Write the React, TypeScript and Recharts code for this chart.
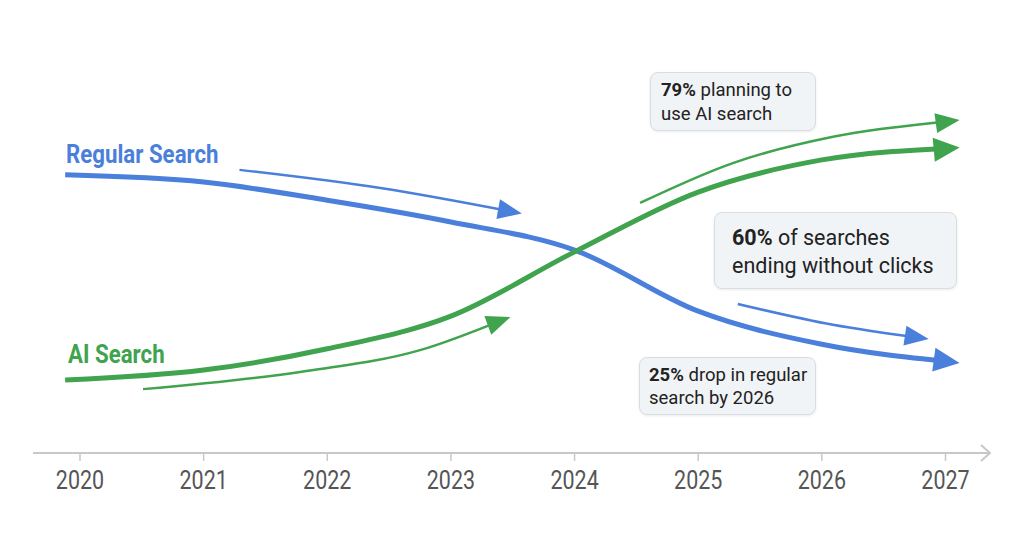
import React from 'react';
import { LineChart, Line, XAxis, YAxis, ReferenceDot } from 'recharts';

// Year ticks on the timeline
const years = [2020, 2021, 2022, 2023, 2024, 2025, 2026, 2027];

// Main series (relative search index, 0-100)
const regularSearch = [
  { x: 2019.88, y: 61.4 },
  { x: 2021, y: 59.8 },
  { x: 2022, y: 55.8 },
  { x: 2023, y: 51.0 },
  { x: 2024, y: 44.8 },
  { x: 2025, y: 31.3 },
  { x: 2026, y: 24.0 },
  { x: 2027.05, y: 20.1 },
];

const aiSearch = [
  { x: 2019.88, y: 16.1 },
  { x: 2021, y: 18.3 },
  { x: 2022, y: 23.0 },
  { x: 2023, y: 30.2 },
  { x: 2024, y: 44.4 },
  { x: 2025, y: 57.6 },
  { x: 2026, y: 64.7 },
  { x: 2027.05, y: 67.3 },
];

// Thin trend arrows
const regularTrendUpper = [
  { x: 2021.29, y: 62.5 },
  { x: 2022.43, y: 58.5 },
  { x: 2023.51, y: 53.2 },
];
const regularTrendLower = [
  { x: 2025.32, y: 32.9 },
  { x: 2026.09, y: 28.3 },
  { x: 2026.8, y: 25.4 },
];
const aiTrendLower = [
  { x: 2020.51, y: 14.1 },
  { x: 2021.78, y: 17.9 },
  { x: 2022.75, y: 22.7 },
  { x: 2023.42, y: 29.4 },
];
const aiTrendUpper = [
  { x: 2024.53, y: 55.2 },
  { x: 2025.28, y: 64.0 },
  { x: 2026.09, y: 69.8 },
  { x: 2027.05, y: 73.3 },
];

const BLUE = '#4A7FDB';
const GREEN = '#40A34E';
const AXIS = '#C8C8C8';

const makeArrowDot = (color: string, len: number, half: number) => (props: any) => {
  const { cx, cy, index, points } = props;
  if (!points || index !== points.length - 1 || index < 1) return <g key={`d-${index}`} />;
  const prev = points[index - 1];
  const dx = cx - prev.x;
  const dy = cy - prev.y;
  const d = Math.sqrt(dx * dx + dy * dy) || 1;
  const ux = dx / d;
  const uy = dy / d;
  const ahead = 8;
  const tx = cx + ux * ahead;
  const ty = cy + uy * ahead;
  const bx = tx - ux * len;
  const by = ty - uy * len;
  const px = -uy;
  const py = ux;
  const path = `M${tx},${ty} L${bx + px * half},${by + py * half} L${bx - px * half},${by - py * half} Z`;
  return <path key={`d-${index}`} d={path} fill={color} stroke="none" />;
};

const YearTick = (props: any) => {
  const { x, y, payload } = props;
  return (
    <text
      transform={`translate(${x},${y}) scale(0.86,1)`}
      x={0}
      y={0}
      dy="0.71em"
      textAnchor="middle"
      fill="#555555"
      fontSize={25}
      fontFamily="Roboto, sans-serif"
    >
      {payload.value}
    </text>
  );
};

const Chevron = (props: any) => {
  const { cx, cy } = props;
  return (
    <path
      d={`M${cx - 9},${cy - 8} L${cx},${cy} L${cx - 9},${cy + 8}`}
      fill="none"
      stroke={AXIS}
      strokeWidth={2}
    />
  );
};

const boxBase: React.CSSProperties = {
  position: 'absolute',
  boxSizing: 'border-box',
  background: '#F1F4F7',
  border: '1px solid #D8DDE2',
  borderRadius: 8,
  boxShadow: '0 1px 3px rgba(0,0,0,0.08)',
  color: '#222222',
  fontFamily: 'Roboto, sans-serif',
  whiteSpace: 'nowrap',
};

export default function App() {
  return (
    <div
      style={{
        position: 'absolute',
        left: 0,
        top: 0,
        width: 1024,
        height: 559,
        background: '#FFFFFF',
        overflow: 'hidden',
      }}
    >
      <LineChart width={1024} height={559} margin={{ top: 0, right: 34, left: 33, bottom: 76 }}>
        <XAxis
          type="number"
          dataKey="x"
          domain={[2019.62, 2027.36]}
          allowDataOverflow
          ticks={years}
          interval={0}
          height={30}
          axisLine={{ stroke: AXIS, strokeWidth: 2 }}
          tickLine={{ stroke: AXIS, strokeWidth: 1.5 }}
          tickSize={8}
          tickMargin={10}
          tick={<YearTick />}
        />
        <YAxis type="number" dataKey="y" domain={[0, 100]} hide />
        <ReferenceDot x={2027.36} y={0} ifOverflow="visible" shape={<Chevron />} />
        <Line
          data={regularTrendUpper}
          dataKey="y"
          type="monotone"
          stroke={BLUE}
          strokeWidth={2.5}
          dot={makeArrowDot(BLUE, 24, 10)}
          activeDot={false}
          isAnimationActive={false}
        />
        <Line
          data={regularTrendLower}
          dataKey="y"
          type="monotone"
          stroke={BLUE}
          strokeWidth={2.5}
          dot={makeArrowDot(BLUE, 24, 10)}
          activeDot={false}
          isAnimationActive={false}
        />
        <Line
          data={aiTrendLower}
          dataKey="y"
          type="monotone"
          stroke={GREEN}
          strokeWidth={2.5}
          dot={makeArrowDot(GREEN, 24, 10)}
          activeDot={false}
          isAnimationActive={false}
        />
        <Line
          data={aiTrendUpper}
          dataKey="y"
          type="monotone"
          stroke={GREEN}
          strokeWidth={2.5}
          dot={makeArrowDot(GREEN, 24, 10)}
          activeDot={false}
          isAnimationActive={false}
        />
        <Line
          data={regularSearch}
          dataKey="y"
          type="monotone"
          stroke={BLUE}
          strokeWidth={5}
          dot={makeArrowDot(BLUE, 26, 12)}
          activeDot={false}
          isAnimationActive={false}
        />
        <Line
          data={aiSearch}
          dataKey="y"
          type="monotone"
          stroke={GREEN}
          strokeWidth={5}
          dot={makeArrowDot(GREEN, 26, 12)}
          activeDot={false}
          isAnimationActive={false}
        />
      </LineChart>

      {/* Series labels */}
      <div
        style={{
          position: 'absolute',
          left: 66,
          top: 141.5,
          fontFamily: 'Roboto, sans-serif',
          fontWeight: 700,
          fontSize: 25,
          lineHeight: '25px',
          height: 25,
          color: BLUE,
          transform: 'scaleX(0.89)',
          transformOrigin: 'left top',
          whiteSpace: 'nowrap',
        }}
      >
        Regular Search
      </div>
      <div
        style={{
          position: 'absolute',
          left: 67.5,
          top: 342,
          fontFamily: 'Roboto, sans-serif',
          fontWeight: 700,
          fontSize: 25,
          lineHeight: '25px',
          height: 25,
          color: GREEN,
          transform: 'scaleX(0.89)',
          transformOrigin: 'left top',
          whiteSpace: 'nowrap',
        }}
      >
        AI Search
      </div>

      {/* Callouts */}
      <div
        style={{
          ...boxBase,
          left: 650,
          top: 72,
          width: 166,
          height: 59,
          paddingLeft: 10,
          paddingTop: 5.4,
          fontSize: 18.5,
          lineHeight: '24px',
        }}
      >
        <b>79%</b> planning to
        <br />
        use AI search
      </div>
      <div
        style={{
          ...boxBase,
          left: 714,
          top: 212,
          width: 243,
          height: 77,
          paddingLeft: 17,
          paddingTop: 10.6,
          fontSize: 21.5,
          lineHeight: '28px',
        }}
      >
        <b>60%</b> of searches
        <br />
        ending without clicks
      </div>
      <div
        style={{
          ...boxBase,
          left: 639,
          top: 357,
          width: 177,
          height: 58,
          paddingLeft: 9,
          paddingTop: 5.9,
          fontSize: 18.5,
          lineHeight: '23px',
        }}
      >
        <b>25%</b> drop in regular
        <br />
        search by 2026
      </div>
    </div>
  );
}
